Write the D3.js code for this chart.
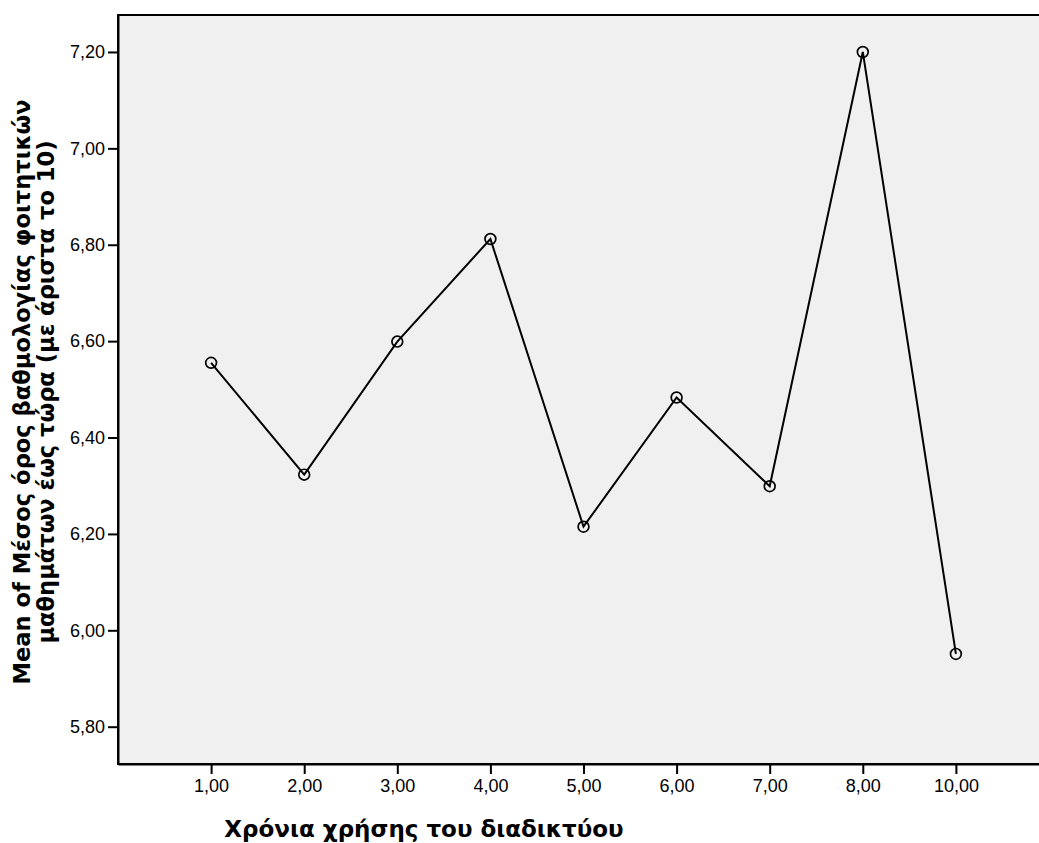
<!DOCTYPE html>
<html>
<head>
<meta charset="utf-8">
<script src="https://cdn.jsdelivr.net/npm/d3@7"></script>
<style>
  html, body { margin: 0; padding: 0; background: #ffffff; }
  svg { display: block; }
</style>
</head>
<body>
<svg id="chart" width="1039" height="843"></svg>
<script>
// ---- data ----
const categories = ["1,00", "2,00", "3,00", "4,00", "5,00", "6,00", "7,00", "8,00", "10,00"];
const means = [6.555, 6.323, 6.599, 6.812, 6.215, 6.483, 6.299, 7.200, 5.951];
const yTickValues = [5.80, 6.00, 6.20, 6.40, 6.60, 6.80, 7.00, 7.20];
const xTitle = "Χρόνια χρήσης του διαδικτύου";
const yTitleLines = ["Mean of Μέσος όρος βαθμολογίας φοιτητικών", "μαθημάτων έως τώρα (με άριστα το 10)"];

// ---- layout ----
const plotL = 118, plotT = 15, plotR = 1049, plotB = 764;
const svg = d3.select("#chart");
const fmt = v => v.toFixed(2).replace(".", ",");
const tickFont = "'Liberation Sans', Arial, sans-serif";
const titleFont = "'DejaVu Sans', Verdana, sans-serif";

const x = d3.scalePoint().domain(categories).range([plotL, plotR]).padding(1);
const y = d3.scaleLinear().domain([5.7226, 7.2767]).range([plotB, plotT]);

// plot background
svg.append("rect")
  .attr("x", plotL).attr("y", plotT)
  .attr("width", plotR - plotL).attr("height", plotB - plotT)
  .attr("fill", "#f0f0f0")
  .attr("stroke", "#000").attr("stroke-width", 2);

// y axis
const yAxis = svg.append("g")
  .attr("transform", `translate(${plotL},0)`)
  .call(d3.axisLeft(y).tickValues(yTickValues).tickFormat(fmt).tickSize(10).tickSizeOuter(0).tickPadding(3));
yAxis.select(".domain").attr("stroke", "#000").attr("stroke-width", 2);
yAxis.selectAll(".tick line").attr("stroke", "#000").attr("stroke-width", 2);
yAxis.selectAll(".tick text")
  .attr("font-family", tickFont)
  .attr("font-size", 18).attr("fill", "#000");

// x axis
const xAxis = svg.append("g")
  .attr("transform", `translate(0,${plotB})`)
  .call(d3.axisBottom(x).tickSize(10).tickSizeOuter(0).tickPadding(5));
xAxis.select(".domain").attr("stroke", "#000").attr("stroke-width", 2);
xAxis.selectAll(".tick line").attr("stroke", "#000").attr("stroke-width", 2);
xAxis.selectAll(".tick text")
  .attr("font-family", tickFont)
  .attr("font-size", 18).attr("fill", "#000");

// line
const pts = categories.map((c, i) => ({ c, v: means[i] }));
svg.append("path")
  .datum(pts)
  .attr("fill", "none")
  .attr("stroke", "#000")
  .attr("stroke-width", 2)
  .attr("d", d3.line().x(d => x(d.c)).y(d => y(d.v)));

svg.selectAll("circle.pt")
  .data(pts)
  .enter().append("circle")
  .attr("class", "pt")
  .attr("cx", d => x(d.c)).attr("cy", d => y(d.v))
  .attr("r", 5.4)
  .attr("fill", "none")
  .attr("stroke", "#000")
  .attr("stroke-width", 1.7);

// axis titles
svg.append("text")
  .attr("x", 424).attr("y", 837)
  .attr("text-anchor", "middle")
  .attr("font-family", titleFont)
  .attr("font-weight", "bold")
  .attr("font-size", 23)
  .attr("fill", "#000")
  .text(xTitle);

const yt = svg.append("text")
  .attr("transform", "translate(30,392) rotate(-90)")
  .attr("text-anchor", "middle")
  .attr("font-family", titleFont)
  .attr("font-weight", "bold")
  .attr("font-size", 22.6)
  .attr("fill", "#000");
yt.selectAll("tspan")
  .data(yTitleLines)
  .enter().append("tspan")
  .attr("x", 0)
  .attr("dy", (d, i) => i === 0 ? 0 : 23.5)
  .text(d => d);
</script>
</body>
</html>
